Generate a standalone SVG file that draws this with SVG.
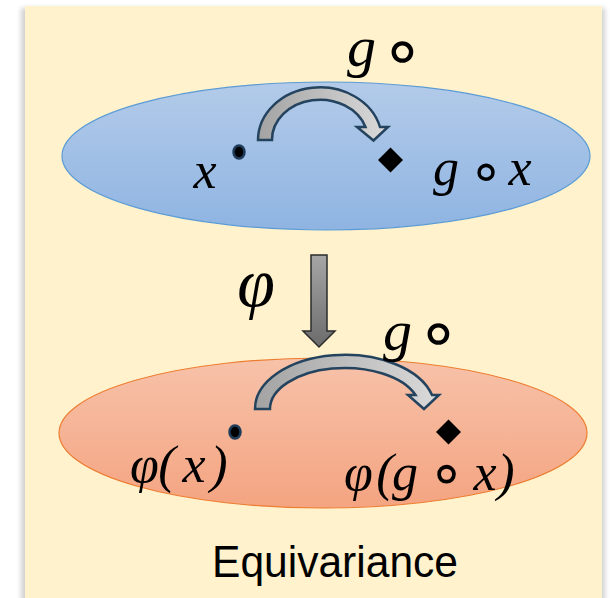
<svg xmlns="http://www.w3.org/2000/svg" width="610" height="598" viewBox="0 0 610 598">
  <defs>
    <linearGradient id="gBlue" x1="0" y1="0" x2="0" y2="1">
      <stop offset="0" stop-color="#B3CBE9"/>
      <stop offset="1" stop-color="#8FB4E2"/>
    </linearGradient>
    <linearGradient id="gOrange" x1="0" y1="0" x2="0" y2="1">
      <stop offset="0" stop-color="#F7C2A9"/>
      <stop offset="1" stop-color="#F4A481"/>
    </linearGradient>
    <linearGradient id="gArc" x1="0" y1="0" x2="1" y2="0">
      <stop offset="0" stop-color="#A3A3A3"/>
      <stop offset="1" stop-color="#DADADA"/>
    </linearGradient>
    <linearGradient id="gDown" x1="0" y1="0" x2="0" y2="1">
      <stop offset="0" stop-color="#A6A6A6"/>
      <stop offset="1" stop-color="#6B6B6B"/>
    </linearGradient>
    <filter id="shadow" x="-10%" y="-10%" width="120%" height="120%">
      <feGaussianBlur stdDeviation="2.5"/>
    </filter>
    <style>
      .m { font-family: "Liberation Serif", "DejaVu Serif", serif; font-style: italic; fill: #000; text-anchor: middle; }
      .o { font-family: "DejaVu Sans", sans-serif; font-style: normal; }
      .arc { fill: url(#gArc); stroke: #24435E; stroke-width: 2.5; stroke-linejoin: miter; }
      .dot { fill: #000; stroke: #1F3B5A; stroke-width: 2.5; }
      .dia { fill: #000; }
      .cap { font-family: "Liberation Sans", "DejaVu Sans", sans-serif; font-size: 44px; fill: #000; text-anchor: middle; }
    </style>
  </defs>

  <rect width="610" height="598" fill="#FFFFFF"/>
  <g id="panel">
    <rect x="21" y="8" width="584" height="600" fill="#9A9A9A" opacity="0.45" filter="url(#shadow)"/>
    <rect x="25" y="6" width="577" height="600" fill="#FFF2CC"/>
  </g>

  <g id="top-space">
    <ellipse cx="326" cy="156" rx="264" ry="74" fill="url(#gBlue)" stroke="#5B9BD5" stroke-width="1.2"/>
    <ellipse class="dot" cx="239" cy="152" rx="5.5" ry="6.5"/>
    <polygon class="dia" points="390.5,147.5 403,160 390.5,172.5 378,160"/>
    <text class="m" font-size="52" x="205" y="188">x</text>
    <text class="m" font-size="52"><tspan x="446" y="185">g</tspan><tspan class="o" font-size="56" x="486" y="190">∘</tspan><tspan x="520" y="185">x</tspan></text>
  </g>

  <g id="bottom-space">
    <ellipse cx="323" cy="433" rx="264" ry="75" fill="url(#gOrange)" stroke="#ED7D31" stroke-width="1.2"/>
    <ellipse class="dot" cx="235" cy="432" rx="5.5" ry="6.5"/>
    <polygon class="dia" points="448.5,419.5 461,432 448.5,444.5 436,432"/>
    <text class="m" font-size="52" y="482"><tspan x="144.5">φ</tspan><tspan x="167">(</tspan><tspan x="194">x</tspan><tspan x="219">)</tspan></text>
    <text class="m" font-size="52"><tspan x="358.5" y="490">φ</tspan><tspan x="385" y="490">(</tspan><tspan x="405" y="490">g</tspan><tspan class="o" font-size="60" x="446.5" y="493">∘</tspan><tspan x="485" y="490">x</tspan><tspan x="506" y="490">)</tspan></text>
  </g>

  <g id="connectors">
    <path class="arc" d="M258,140 A62,53 0 0 1 380,127 L388,127 L373.5,140.5 L357,127 L365.5,127 A48,40 0 0 0 272,140 Z"/>
    <path class="arc" d="M255,409 A90,54 0 0 1 432,395 L439,395 L424,409 L408,395 L415.5,395 A75,41 0 0 0 270,409 Z"/>
    <path d="M311,255 L327,255 L327,331 L335,331 L319,347 L303,331 L311,331 Z" fill="url(#gDown)" stroke="#2B2B2B" stroke-width="1.5"/>
  </g>

  <g id="labels">
    <text class="m" font-size="58"><tspan x="361.5" y="66">g</tspan><tspan class="o" font-size="70" x="402.5" y="74">∘</tspan></text>
    <text class="m" font-size="68" x="256" y="306">φ</text>
    <text class="m" font-size="58"><tspan x="397.5" y="350">g</tspan><tspan class="o" font-size="70" x="438.5" y="356">∘</tspan></text>
    <text class="cap" x="335" y="577" textLength="246" lengthAdjust="spacingAndGlyphs">Equivariance</text>
  </g>
</svg>
